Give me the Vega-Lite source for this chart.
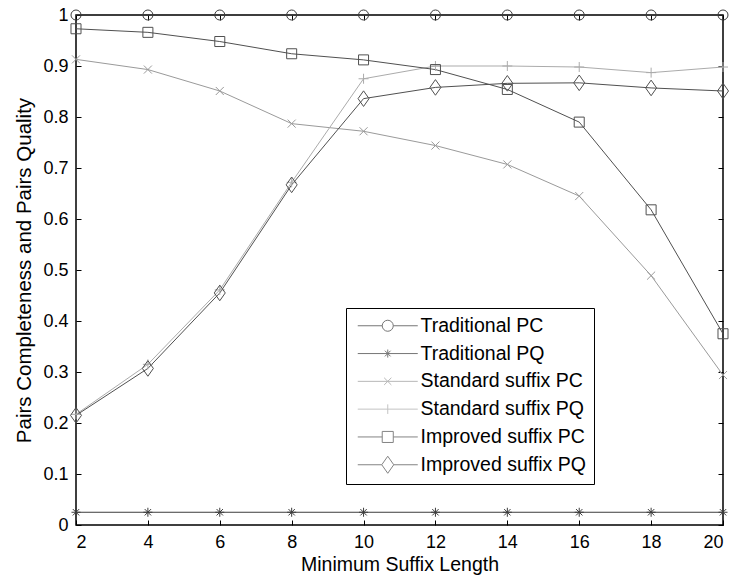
{
  "$schema": "https://vega.github.io/schema/vega-lite/v6.json",
  "width": 647,
  "height": 510,
  "autosize": {"type": "none"},
  "padding": {"left": 76, "top": 15, "right": 9, "bottom": 52},
  "background": "white",
  "config": {
    "view": {"stroke": "black", "strokeWidth": 1.5},
    "font": "Liberation Sans",
    "axis": {
      "labelFont": "Liberation Sans",
      "labelFontSize": 18,
      "labelColor": "black",
      "tickColor": "black",
      "tickWidth": 1,
      "tickSize": -5,
      "domain": false,
      "grid": false,
      "titleFont": "Liberation Sans",
      "titleFontSize": 19.5,
      "titleFontWeight": "normal",
      "titleColor": "black"
    }
  },
  "data": {
    "values": [
      {"x": 2, "v": 1.0, "series": "Traditional PC"},
      {"x": 4, "v": 1.0, "series": "Traditional PC"},
      {"x": 6, "v": 1.0, "series": "Traditional PC"},
      {"x": 8, "v": 1.0, "series": "Traditional PC"},
      {"x": 10, "v": 1.0, "series": "Traditional PC"},
      {"x": 12, "v": 1.0, "series": "Traditional PC"},
      {"x": 14, "v": 1.0, "series": "Traditional PC"},
      {"x": 16, "v": 1.0, "series": "Traditional PC"},
      {"x": 18, "v": 1.0, "series": "Traditional PC"},
      {"x": 20, "v": 1.0, "series": "Traditional PC"},
      {"x": 2, "v": 0.025, "series": "Traditional PQ"},
      {"x": 4, "v": 0.025, "series": "Traditional PQ"},
      {"x": 6, "v": 0.025, "series": "Traditional PQ"},
      {"x": 8, "v": 0.025, "series": "Traditional PQ"},
      {"x": 10, "v": 0.025, "series": "Traditional PQ"},
      {"x": 12, "v": 0.025, "series": "Traditional PQ"},
      {"x": 14, "v": 0.025, "series": "Traditional PQ"},
      {"x": 16, "v": 0.025, "series": "Traditional PQ"},
      {"x": 18, "v": 0.025, "series": "Traditional PQ"},
      {"x": 20, "v": 0.025, "series": "Traditional PQ"},
      {"x": 2, "v": 0.913, "series": "Standard suffix PC"},
      {"x": 4, "v": 0.893, "series": "Standard suffix PC"},
      {"x": 6, "v": 0.851, "series": "Standard suffix PC"},
      {"x": 8, "v": 0.787, "series": "Standard suffix PC"},
      {"x": 10, "v": 0.772, "series": "Standard suffix PC"},
      {"x": 12, "v": 0.744, "series": "Standard suffix PC"},
      {"x": 14, "v": 0.707, "series": "Standard suffix PC"},
      {"x": 16, "v": 0.645, "series": "Standard suffix PC"},
      {"x": 18, "v": 0.489, "series": "Standard suffix PC"},
      {"x": 20, "v": 0.294, "series": "Standard suffix PC"},
      {"x": 2, "v": 0.217, "series": "Standard suffix PQ"},
      {"x": 4, "v": 0.315, "series": "Standard suffix PQ"},
      {"x": 6, "v": 0.461, "series": "Standard suffix PQ"},
      {"x": 8, "v": 0.672, "series": "Standard suffix PQ"},
      {"x": 10, "v": 0.875, "series": "Standard suffix PQ"},
      {"x": 12, "v": 0.9, "series": "Standard suffix PQ"},
      {"x": 14, "v": 0.9, "series": "Standard suffix PQ"},
      {"x": 16, "v": 0.898, "series": "Standard suffix PQ"},
      {"x": 18, "v": 0.887, "series": "Standard suffix PQ"},
      {"x": 20, "v": 0.898, "series": "Standard suffix PQ"},
      {"x": 2, "v": 0.973, "series": "Improved suffix PC"},
      {"x": 4, "v": 0.966, "series": "Improved suffix PC"},
      {"x": 6, "v": 0.948, "series": "Improved suffix PC"},
      {"x": 8, "v": 0.924, "series": "Improved suffix PC"},
      {"x": 10, "v": 0.912, "series": "Improved suffix PC"},
      {"x": 12, "v": 0.893, "series": "Improved suffix PC"},
      {"x": 14, "v": 0.854, "series": "Improved suffix PC"},
      {"x": 16, "v": 0.79, "series": "Improved suffix PC"},
      {"x": 18, "v": 0.618, "series": "Improved suffix PC"},
      {"x": 20, "v": 0.375, "series": "Improved suffix PC"},
      {"x": 2, "v": 0.215, "series": "Improved suffix PQ"},
      {"x": 4, "v": 0.307, "series": "Improved suffix PQ"},
      {"x": 6, "v": 0.455, "series": "Improved suffix PQ"},
      {"x": 8, "v": 0.667, "series": "Improved suffix PQ"},
      {"x": 10, "v": 0.836, "series": "Improved suffix PQ"},
      {"x": 12, "v": 0.858, "series": "Improved suffix PQ"},
      {"x": 14, "v": 0.866, "series": "Improved suffix PQ"},
      {"x": 16, "v": 0.867, "series": "Improved suffix PQ"},
      {"x": 18, "v": 0.857, "series": "Improved suffix PQ"},
      {"x": 20, "v": 0.851, "series": "Improved suffix PQ"}
    ]
  },
  "layer": [
    {
      "mark": {"type": "line", "strokeWidth": 1, "clip": false},
      "encoding": {
        "x": {
          "field": "x", "type": "quantitative",
          "scale": {"domain": [2, 20], "nice": false, "zero": false},
          "axis": {"orient": "bottom", "values": [2, 4, 6, 8, 10, 12, 14, 16, 18, 20], "title": "Minimum Suffix Length", "labelPadding": 13, "titlePadding": 4}
        },
        "y": {
          "field": "v", "type": "quantitative",
          "scale": {"domain": [0, 1], "nice": false},
          "axis": {"orient": "left", "values": [0, 0.1, 0.2, 0.3, 0.4, 0.5, 0.6, 0.7, 0.8, 0.9, 1], "format": ".1~f", "title": "Pairs Completeness and Pairs Quality", "labelPadding": 13, "titlePadding": 8, "titleFontSize": 20.5}
        },
        "color": {
          "field": "series", "type": "nominal",
          "scale": {
            "domain": ["Traditional PC", "Traditional PQ", "Standard suffix PC", "Standard suffix PQ", "Improved suffix PC", "Improved suffix PQ"],
            "range": ["#3c3c3c", "#3c3c3c", "#9a9a9a", "#ababab", "#505050", "#505050"]
          },
          "legend": null
        }
      }
    },
    {
      "mark": {"type": "point", "filled": false, "strokeWidth": 1, "size": 121, "opacity": 1, "clip": false},
      "encoding": {
        "x": {
          "field": "x", "type": "quantitative",
          "axis": {"orient": "top", "values": [2, 4, 6, 8, 10, 12, 14, 16, 18, 20], "labels": false, "title": null}
        },
        "y": {
          "field": "v", "type": "quantitative",
          "axis": {"orient": "right", "values": [0, 0.1, 0.2, 0.3, 0.4, 0.5, 0.6, 0.7, 0.8, 0.9, 1], "labels": false, "title": null}
        },
        "color": {
          "field": "series", "type": "nominal",
          "scale": {
            "domain": ["Traditional PC", "Traditional PQ", "Standard suffix PC", "Standard suffix PQ", "Improved suffix PC", "Improved suffix PQ"],
            "range": ["#3c3c3c", "#3c3c3c", "#9a9a9a", "#ababab", "#505050", "#505050"]
          },
          "legend": null
        },
        "shape": {
          "field": "series", "type": "nominal",
          "scale": {
            "domain": ["Traditional PC", "Traditional PQ", "Standard suffix PC", "Standard suffix PQ", "Improved suffix PC", "Improved suffix PQ"],
            "range": [
              "M-0.91,0A0.91,0.91 0 1,1 0.91,0A0.91,0.91 0 1,1 -0.91,0Z",
              "M-0.82,0H0.82M0,-0.82V0.82M-0.58,-0.58L0.58,0.58M-0.58,0.58L0.58,-0.58",
              "M-0.73,-0.73L0.73,0.73M-0.73,0.73L0.73,-0.73",
              "M-0.91,0H0.91M0,-0.91V0.91",
              "M-0.91,-0.91H0.91V0.91H-0.91Z",
              "M-1,0L0,-1.42L1,0L0,1.42Z"
            ]
          },
          "legend": null
        }
      }
    },
    {
      "transform": [{"filter": "datum.x > 100"}],
      "mark": {"type": "point", "filled": false, "strokeWidth": 1, "size": 144},
      "encoding": {
        "x": {"field": "x", "type": "quantitative", "axis": null},
        "y": {"field": "v", "type": "quantitative", "axis": null},
        "color": {
          "field": "series", "type": "nominal",
          "scale": {
            "domain": ["Traditional PC", "Traditional PQ", "Standard suffix PC", "Standard suffix PQ", "Improved suffix PC", "Improved suffix PQ"],
            "range": ["#3c3c3c", "#3c3c3c", "#9a9a9a", "#ababab", "#505050", "#505050"]
          },
          "legend": {
            "orient": "none", "legendX": 270, "legendY": 293, "title": null,
            "padding": 8, "strokeColor": "black", "fillColor": "white",
            "labelFont": "Liberation Sans", "labelFontSize": 19.5, "labelColor": "black", "labelLimit": 400,
            "labelOffset": 47, "rowPadding": 6.8, "symbolSize": 144, "symbolStrokeWidth": 1
          }
        },
        "shape": {
          "field": "series", "type": "nominal",
          "scale": {
            "domain": ["Traditional PC", "Traditional PQ", "Standard suffix PC", "Standard suffix PQ", "Improved suffix PC", "Improved suffix PQ"],
            "range": [
              "M-1,0H3.08M4.92,0H9M3.08,0A0.92,0.92 0 1,1 4.92,0A0.92,0.92 0 1,1 3.08,0Z",
              "M-1,0H9M4,-0.67V0.67M3.53,-0.47L4.47,0.47M3.53,0.47L4.47,-0.47",
              "M-1,0H9M3.4,-0.6L4.6,0.6M3.4,0.6L4.6,-0.6",
              "M-1,0H9M4,-0.8V0.8",
              "M-1,0H3.08M4.92,0H9M3.08,-0.92H4.92V0.92H3.08Z",
              "M-1,0H3M5,0H9M3,0L4,-1.42L5,0L4,1.42Z"
            ]
          },
          "legend": {
            "orient": "none", "legendX": 270, "legendY": 293, "title": null,
            "padding": 8, "strokeColor": "black", "fillColor": "white",
            "labelFont": "Liberation Sans", "labelFontSize": 19.5, "labelColor": "black", "labelLimit": 400,
            "labelOffset": 47, "rowPadding": 6.8, "symbolSize": 144, "symbolStrokeWidth": 1
          }
        }
      }
    }
  ],
  "resolve": {
    "scale": {"color": "independent", "shape": "independent"},
    "axis": {"x": "independent", "y": "independent"}
  }
}
